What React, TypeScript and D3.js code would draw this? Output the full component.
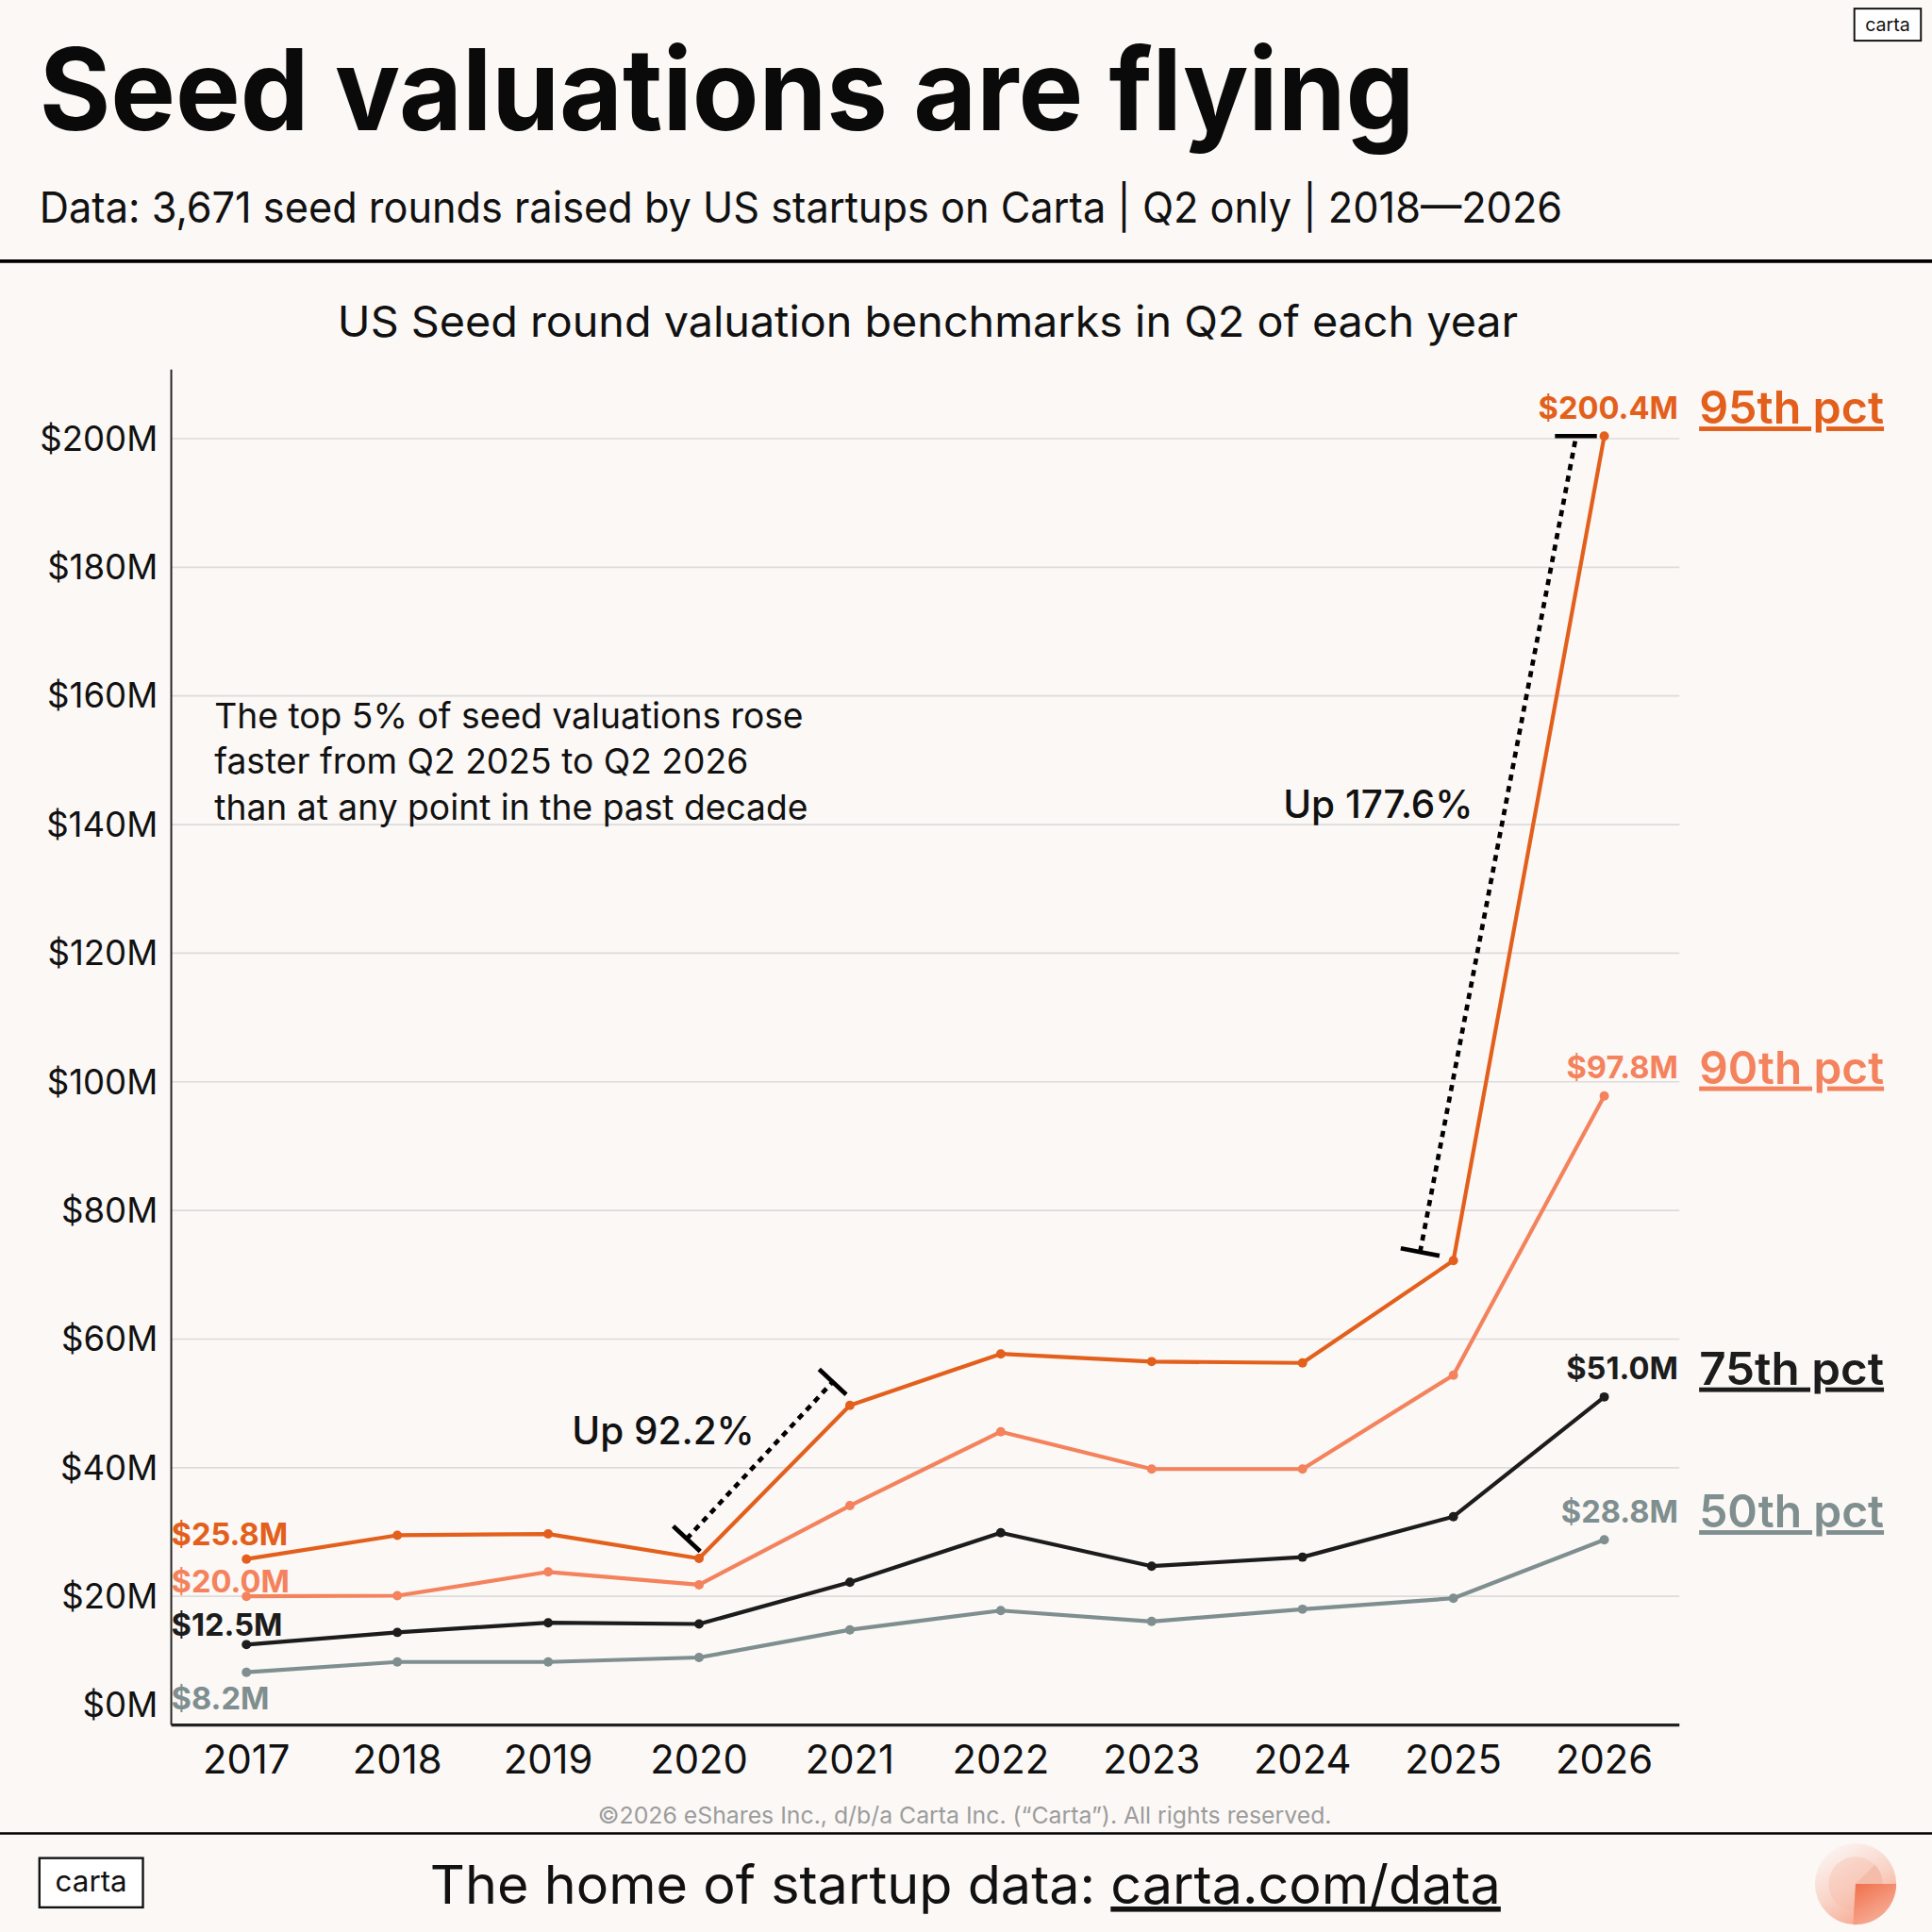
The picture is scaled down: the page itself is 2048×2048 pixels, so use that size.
import React from 'react';
import * as d3 from 'd3';

// values in $M
const years = [2017, 2018, 2019, 2020, 2021, 2022, 2023, 2024, 2025, 2026];
const p95 = [25.8, 29.5, 29.7, 25.9, 49.7, 57.7, 56.5, 56.3, 72.2, 200.4];
const p90 = [20.0, 20.1, 23.8, 21.8, 34.1, 45.6, 39.8, 39.8, 54.4, 97.8];
const p75 = [12.5, 14.4, 15.9, 15.7, 22.2, 29.9, 24.7, 26.1, 32.4, 51.0];
const p50 = [8.2, 9.8, 9.8, 10.5, 14.8, 17.8, 16.1, 18.0, 19.7, 28.8];
const yTicks = [0, 20, 40, 60, 80, 100, 120, 140, 160, 180, 200];
const seriesNames = ['95th pct', '90th pct', '75th pct', '50th pct'];
const seriesColors = ['#E35F1C', '#F4825C', '#1C1C1C', '#7F8E8E'];
const annotationLines = [
  'The top 5% of seed valuations rose',
  'faster from Q2 2025 to Q2 2026',
  'than at any point in the past decade',
];

const FONT = "Inter, 'Open Sans', sans-serif";
const BG = '#FBF8F6';

const series = [p95, p90, p75, p50].map((values, i) => ({
  name: seriesNames[i],
  color: seriesColors[i],
  values,
}));

// left label vertical offsets relative to first point
const firstOffsets = [-20, -12, -16, 21];

const App: React.FC = () => {
  const W = 1568;
  const left = 139;
  const right = 1363;
  const top = 300;
  const bottom = 1400;

  const x = d3.scaleLinear().domain([2017, 2026]).range([200, 1302]);
  const y = d3.scaleLinear().domain([0, 200]).range([bottom, 356]);

  const line = d3
    .line<number>()
    .x((_, i) => x(years[i]))
    .y((d) => y(d));

  const fmt = (v: number) => `$${v.toFixed(1)}M`;

  // dotted "Up" annotations
  const ann1 = {
    x1: x(2020) - 10, y1: y(p95[3]) - 16,
    x2: x(2021) - 14, y2: y(p95[4]) - 19,
  };
  const ann2 = {
    x1: x(2025) - 27, y1: y(p95[8]) - 7,
    x2: x(2026) - 23, y2: y(p95[9]) + 1,
  };
  const perp = (a: { x1: number; y1: number; x2: number; y2: number }, end: 1 | 2, half: number) => {
    const dx = a.x2 - a.x1;
    const dy = a.y2 - a.y1;
    const len = Math.hypot(dx, dy);
    const px = (-dy / len) * half;
    const py = (dx / len) * half;
    const cx = end === 1 ? a.x1 : a.x2;
    const cy = end === 1 ? a.y1 : a.y2;
    return { x1: cx - px, y1: cy - py, x2: cx + px, y2: cy + py };
  };
  const t1a = perp(ann1, 1, 15);
  const t1b = perp(ann1, 2, 15);
  const t2a = perp(ann2, 1, 16);

  // footer logo wedges
  const lx = 1506;
  const ly0 = 1529;
  const bigWedge = d3.arc()({ innerRadius: 0, outerRadius: 33, startAngle: Math.PI / 2, endAngle: Math.PI * 1.02 }) || '';
  const smallWedge = d3.arc()({ innerRadius: 0, outerRadius: 22, startAngle: Math.PI / 4, endAngle: Math.PI / 2 }) || '';

  return (
    <svg
      width={2048}
      height={2048}
      viewBox={`0 0 ${W} ${W}`}
      style={{ position: 'absolute', left: 0, top: 0, display: 'block' }}
      fontFamily={FONT}
    >
      <defs>
        <linearGradient id="logoGrad" x1="0.2" y1="0.1" x2="0.7" y2="1">
          <stop offset="0" stopColor="#FBF1EE" />
          <stop offset="0.5" stopColor="#F9D3C6" />
          <stop offset="1" stopColor="#F6A58C" />
        </linearGradient>
        <linearGradient id="wedgeGrad" x1="0" y1="0" x2="0.6" y2="1">
          <stop offset="0" stopColor="#EF5E36" />
          <stop offset="1" stopColor="#F7B39E" />
        </linearGradient>
      </defs>
      <rect x={0} y={0} width={W} height={W} fill={BG} />

      {/* top-right logo */}
      <rect x={1505} y={7} width={54} height={26} fill="#fff" stroke="#111" strokeWidth={1.5} />
      <text x={1532} y={25} textAnchor="middle" fontSize={15} fill="#111">carta</text>

      {/* header */}
      <text x={32} y={106} fontSize={92} fontWeight={700} fill="#0a0a0a" textLength={1116} lengthAdjust="spacingAndGlyphs">
        Seed valuations are flying
      </text>
      <text x={32} y={181} fontSize={35} fill="#111" textLength={1236} lengthAdjust="spacingAndGlyphs">
        Data: 3,671 seed rounds raised by US startups on Carta | Q2 only | 2018—2026
      </text>
      <line x1={0} x2={W} y1={212} y2={212} stroke="#000" strokeWidth={3} />

      <text x={274} y={273} fontSize={35} fill="#111" textLength={958} lengthAdjust="spacingAndGlyphs">
        US Seed round valuation benchmarks in Q2 of each year
      </text>

      {/* gridlines + y labels */}
      {yTicks.map((t) => (
        <g key={t}>
          {t > 0 && <line x1={left} x2={right} y1={y(t)} y2={y(t)} stroke="#DEDCDA" strokeWidth={1.3} />}
          <text
            x={128}
            y={t === 0 ? y(t) - 16 : y(t)}
            dy="0.35em"
            textAnchor="end"
            fontSize={28}
            fill="#111"
          >
            {`$${t}M`}
          </text>
        </g>
      ))}

      {/* axes */}
      <line x1={left} x2={left} y1={top} y2={bottom} stroke="#222" strokeWidth={1.5} />
      <line x1={left} x2={right} y1={bottom} y2={bottom} stroke="#222" strokeWidth={2.5} />
      {years.map((yr) => (
        <text key={yr} x={x(yr)} y={1439} textAnchor="middle" fontSize={32} fill="#111">
          {yr}
        </text>
      ))}

      {/* annotation text */}
      {annotationLines.map((l, i) => (
        <text key={i} x={174} y={591 + i * 37} fontSize={28.5} fill="#111">
          {l}
        </text>
      ))}

      {/* dotted growth markers */}
      <g stroke="#000" strokeWidth={3.6}>
        <line {...ann1} strokeDasharray="5,4.5" />
        <line {...t1a} />
        <line {...t1b} />
        <line {...ann2} strokeDasharray="5,4.5" />
        <line {...t2a} />
        <line x1={ann2.x2 - 17} x2={ann2.x2 + 17} y1={y(p95[9])} y2={y(p95[9])} />
      </g>
      <text x={x(2020) + 45} y={1172} textAnchor="end" fontSize={31} fontWeight={500} fill="#111">
        Up 92.2%
      </text>
      <text x={x(2025) + 16} y={664} textAnchor="end" fontSize={31} fontWeight={500} fill="#111">
        Up 177.6%
      </text>

      {/* series lines (draw lower first) */}
      {[...series].reverse().map((s) => (
        <g key={s.name}>
          <path d={line(s.values) || ''} fill="none" stroke={s.color} strokeWidth={3.2} strokeLinejoin="round" />
          {s.values.map((v, i) => (
            <circle key={i} cx={x(years[i])} cy={y(v)} r={3.8} fill={s.color} />
          ))}
        </g>
      ))}

      {/* first-point labels */}
      {series.map((s, i) => (
        <text
          key={s.name}
          x={left}
          y={y(s.values[0]) + firstOffsets[i]}
          dy="0.35em"
          fontSize={25}
          fontWeight={700}
          fill={s.color}
        >
          {fmt(s.values[0])}
        </text>
      ))}

      {/* last-point labels and legend */}
      {series.map((s) => {
        const v = s.values[s.values.length - 1];
        const ly = y(v) - 23;
        return (
          <g key={s.name}>
            <text x={1362} y={ly} dy="0.35em" textAnchor="end" fontSize={25} fontWeight={700} fill={s.color}>
              {fmt(v)}
            </text>
            <text
              x={1379}
              y={ly}
              dy="0.35em"
              fontSize={37}
              fontWeight={600}
              fill={s.color}
              textDecoration="underline"
              textLength={150}
              lengthAdjust="spacingAndGlyphs"
            >
              {s.name}
            </text>
          </g>
        );
      })}

      {/* footer */}
      <text x={783} y={1480} textAnchor="middle" fontSize={19} fill="#9C9C9C">
        ©2026 eShares Inc., d/b/a Carta Inc. (“Carta”). All rights reserved.
      </text>
      <line x1={0} x2={W} y1={1488} y2={1488} stroke="#000" strokeWidth={2} />
      <rect x={32} y={1508} width={84} height={40} fill="#fff" stroke="#111" strokeWidth={1.8} />
      <text x={74} y={1535} textAnchor="middle" fontSize={24} fill="#111">carta</text>
      <text x={349} y={1545} fontSize={43} fill="#111" textLength={869} lengthAdjust="spacingAndGlyphs">
        The home of startup data:{' '}
        <tspan textDecoration="underline">carta.com/data</tspan>
      </text>
      <g transform={`translate(${lx},${ly0})`}>
        <circle r={33} fill="url(#logoGrad)" />
        <circle r={22} fill="#F7B7A3" opacity={0.35} />
        <path d={bigWedge} fill="url(#wedgeGrad)" opacity={0.85} />
        <path d={smallWedge} fill="#F2B9A6" opacity={0.8} />
      </g>
    </svg>
  );
};

export default App;
